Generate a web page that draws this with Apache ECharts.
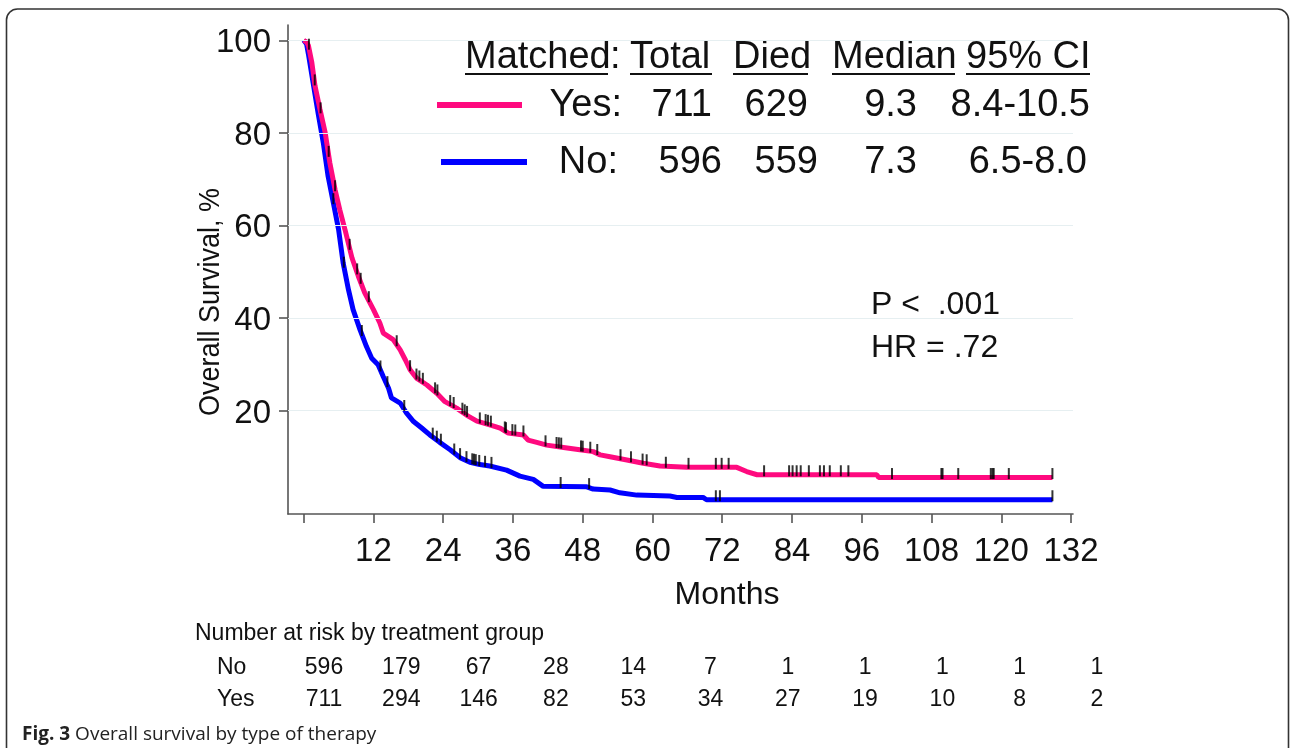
<!DOCTYPE html>
<html><head><meta charset="utf-8">
<script src="https://cdn.jsdelivr.net/npm/echarts@6/dist/echarts.min.js"></script>
<style>html,body{margin:0;padding:0;background:#fff;}#c{width:1290px;height:748px;}</style>
</head><body><div id="c"></div>
<script>
// ---- data ----
const yesTime = [0,0.5,0.8,1.4,1.95,2.8,3.7,4.5,5.4,6.2,7.1,8.3,9.4,10.5,12.0,13.1,13.7,15.4,16.6,17.5,18.3,19.4,21.2,22.9,24.3,26.3,28.0,29.8,32.0,33.8,35.2,37.8,38.6,40.1,41.8,44.7,47.5,49.8,51.0,52.7,55.6,58.4,61.3,65.9,74.5,76.2,78.0,98.6,98.9,128.8];
const yesSurv = [100,99.6,98.9,95.2,90.1,85.1,80.0,73.5,67.7,63.4,59.1,53.0,49.0,45.4,41.8,38.9,36.7,35.3,33.1,30.9,28.8,27.0,25.5,23.7,21.9,20.5,19.0,17.7,16.9,16.2,15.1,14.7,13.6,13.1,12.5,12.0,11.5,11.1,10.4,10.0,9.3,8.6,8.0,7.7,7.7,6.8,6.1,6.1,5.5,5.5];
const noTime = [0,0.5,0.8,1.65,2.5,3.4,4.2,5.1,6.0,6.8,7.7,8.5,9.7,10.8,11.7,12.8,13.7,14.6,15.1,16.6,17.7,18.9,20.3,21.7,23.4,25.2,26.9,28.6,30.3,32.0,34.9,37.2,39.5,41.2,48.7,49.8,52.7,54.4,57.3,63.0,64.2,68.7,69.3,128.8];
const noSurv = [100,99.2,97.1,90.6,84.1,77.6,70.6,64.9,59.1,51.8,46.1,41.8,37.4,33.8,31.3,29.9,27.3,24.8,22.7,21.6,19.4,17.6,16.2,14.7,13.1,11.5,9.8,8.8,8.3,8.0,7.1,5.8,5.1,3.6,3.5,3.0,2.8,2.2,1.7,1.5,1.2,1.2,0.7,0.7];
const yesCensor = [0.9,1.9,2.9,4.3,5.4,7.9,9.2,9.8,11.2,16.0,18.3,19.4,19.9,20.5,22.6,23.0,25.2,25.8,27.3,27.7,28.1,30.3,31.3,31.7,32.2,34.6,34.8,35.9,36.4,37.8,41.6,43.5,43.9,44.3,47.7,48.0,49.3,50.5,54.5,56.3,58.3,59.0,62.3,66.2,70.9,71.9,73.1,79.2,83.5,84.1,84.8,85.5,86.9,88.8,89.5,90.5,92.4,93.7,101.2,109.7,109.9,112.6,118.2,118.5,118.7,121.3,128.8];
const noCensor = [5.1,6.9,10.0,13.2,14.4,17.3,22.2,22.9,23.6,25.9,26.9,28.0,29.0,29.3,29.6,30.2,31.2,32.3,44.2,49.1,70.9,71.6,128.8];
const xTickValues = [0,12,24,36,48,60,72,84,96,108,120,132];
const xTickLabels = ['','12','24','36','48','60','72','84','96','108','120','132'];
const yTickValues = [20,40,60,80,100];
const riskTimes = [0,12,24,36,48,60,72,84,96,108,120];
const riskNo = [596,179,67,28,14,7,1,1,1,1,1];
const riskYes = [711,294,146,82,53,34,27,19,10,8,2];
const legendHeader = ['Matched', 'Total', 'Died', 'Median', '95% CI'];
const legendYes = ['Yes:', '711', '629', '9.3', '8.4-10.5'];
const legendNo = ['No:', '596', '559', '7.3', '6.5-8.0'];
const statsText = ['P <  .001', 'HR = .72'];

// ---- helpers ----
function pairs(t, s) { return t.map((v, i) => [v, s[i]]); }
function survAt(t, ts, ss) {
  for (let i = 0; i < ts.length - 1; i++) {
    if (t >= ts[i] && t <= ts[i + 1]) {
      const f = (t - ts[i]) / (ts[i + 1] - ts[i] || 1);
      return ss[i] + f * (ss[i + 1] - ss[i]);
    }
  }
  return ss[ss.length - 1];
}
const PINK = '#ff0a7f', BLUE = '#0000ff';
const FONT = '"Liberation Sans", Arial, sans-serif';
const chart = echarts.init(document.getElementById('c'), null, {renderer: 'canvas'});

const graphics = [];
// frame
graphics.push({type: 'rect', shape: {x: 6.5, y: 9, width: 1282, height: 800, r: 11}, style: {fill: 'none', stroke: '#333', lineWidth: 1.6}, silent: true});
// axis titles
graphics.push({type: 'text', x: 211, y: 302, rotation: Math.PI / 2, scaleX: 0.9, style: {text: 'Overall Survival, %', font: '30px ' + FONT, fill: '#111', align: 'center', verticalAlign: 'middle'}});
graphics.push({type: 'text', x: 727, y: 595, style: {text: 'Months', font: '32px ' + FONT, fill: '#111', align: 'center', verticalAlign: 'middle'}});
// legend header
const hdrLeft = [465, 630, 733, 832, 966];
const hdrRight = [608, 712, 808, 955, 1090];
legendHeader.forEach((w, i) => {
  graphics.push({type: 'text', x: hdrLeft[i], y: 58, style: {text: w, font: '38px ' + FONT, fill: '#111', align: 'left', verticalAlign: 'middle'}});
  graphics.push({type: 'line', shape: {x1: hdrLeft[i], y1: 74, x2: hdrRight[i], y2: 74}, style: {stroke: '#111', lineWidth: 2}});
});
graphics.push({type: 'text', x: 610, y: 58, style: {text: ':', font: '38px ' + FONT, fill: '#111', align: 'left', verticalAlign: 'middle'}});
const yesRight = [622, 712, 808, 917, 1090];
const noRight = [618, 722, 818, 917, 1087];
legendYes.forEach((w, i) => graphics.push({type: 'text', x: yesRight[i], y: 106, style: {text: w, font: '38px ' + FONT, fill: '#111', align: 'right', verticalAlign: 'middle'}}));
legendNo.forEach((w, i) => graphics.push({type: 'text', x: noRight[i], y: 163, style: {text: w, font: '38px ' + FONT, fill: '#111', align: 'right', verticalAlign: 'middle'}}));
graphics.push({type: 'line', shape: {x1: 437, y1: 105, x2: 522, y2: 105}, style: {stroke: PINK, lineWidth: 6}});
graphics.push({type: 'line', shape: {x1: 441, y1: 162, x2: 527, y2: 162}, style: {stroke: BLUE, lineWidth: 6}});
// stats
statsText.forEach((s, i) => graphics.push({type: 'text', x: 871, y: 305 + i * 43, style: {text: s, font: '32px ' + FONT, fill: '#111', align: 'left', verticalAlign: 'middle'}}));
// risk table
graphics.push({type: 'text', x: 195, y: 634, style: {text: 'Number at risk by treatment group', font: '23px ' + FONT, fill: '#111', align: 'left', verticalAlign: 'middle'}});
graphics.push({type: 'text', x: 217, y: 668, style: {text: 'No', font: '23px ' + FONT, fill: '#111', align: 'left', verticalAlign: 'middle'}});
graphics.push({type: 'text', x: 217, y: 700, style: {text: 'Yes', font: '23px ' + FONT, fill: '#111', align: 'left', verticalAlign: 'middle'}});
riskTimes.forEach((t, i) => {
  const cx = 324 + i * 77.3;
  graphics.push({type: 'text', x: cx, y: 668, style: {text: String(riskNo[i]), font: '23px ' + FONT, fill: '#111', align: 'center', verticalAlign: 'middle'}});
  graphics.push({type: 'text', x: cx, y: 700, style: {text: String(riskYes[i]), font: '23px ' + FONT, fill: '#111', align: 'center', verticalAlign: 'middle'}});
});
// caption
graphics.push({type: 'text', x: 22, y: 735, style: {text: '{b|Fig. 3} Overall survival by type of therapy', font: '19px "Open Sans", sans-serif', fill: '#222', align: 'left', verticalAlign: 'middle', rich: {b: {fontWeight: 'bold', fontSize: 19, fontFamily: '"Open Sans", sans-serif', fill: '#222'}}}});

const option = {
  animation: false,
  backgroundColor: '#fff',
  grid: {left: 288, right: 217, top: 25, bottom: 234, containLabel: false},
  xAxis: {
    type: 'value', min: -2.7, max: 132.34,
    axisLine: {show: true, onZero: false, lineStyle: {color: '#555', width: 1.6}},
    axisTick: {show: true, inside: false, length: 9, lineStyle: {color: '#555', width: 1.6}, customValues: xTickValues},
    axisLabel: {show: true, customValues: xTickValues, formatter: v => xTickLabels[xTickValues.indexOf(v)] || '', fontSize: 33, fontFamily: FONT, color: '#111', margin: 21},
    splitLine: {show: false}
  },
  yAxis: {
    type: 'value', min: -2.38, max: 103.3,
    axisLine: {show: true, onZero: false, lineStyle: {color: '#555', width: 1.6}},
    axisTick: {show: true, inside: false, length: 9, lineStyle: {color: '#555', width: 1.6}, customValues: yTickValues},
    axisLabel: {show: true, customValues: yTickValues, margin: 17,
      formatter: v => '{a|' + v + '}',
      rich: {a: {fontSize: 33, fontFamily: FONT, color: '#111', padding: [6, 0, 0, 0]}}},
    splitLine: {show: false}
  },
  series: [
    {type: 'line', name: 'grid', data: [], silent: true,
      markLine: {silent: true, symbol: 'none', label: {show: false}, lineStyle: {color: '#e6eff1', width: 1.2, type: 'solid'}, data: yTickValues.map(v => ({yAxis: v}))}},
    {type: 'line', name: 'No', data: pairs(noTime, noSurv), showSymbol: false, lineStyle: {color: BLUE, width: 5}, itemStyle: {color: BLUE}, z: 3},
    {type: 'line', name: 'Yes', data: pairs(yesTime, yesSurv), showSymbol: false, lineStyle: {color: PINK, width: 5}, itemStyle: {color: PINK}, z: 4},
    {type: 'scatter', data: noCensor.map(t => [t, survAt(t, noTime, noSurv)]), symbol: 'rect', symbolSize: [2, 11], symbolOffset: [0, -4], itemStyle: {color: '#000'}, z: 5, silent: true},
    {type: 'scatter', data: yesCensor.map(t => [t, survAt(t, yesTime, yesSurv)]), symbol: 'rect', symbolSize: [2, 11], symbolOffset: [0, -4], itemStyle: {color: '#000'}, z: 5, silent: true}
  ],
  graphic: graphics
};
chart.setOption(option);
</script>
</body></html>
